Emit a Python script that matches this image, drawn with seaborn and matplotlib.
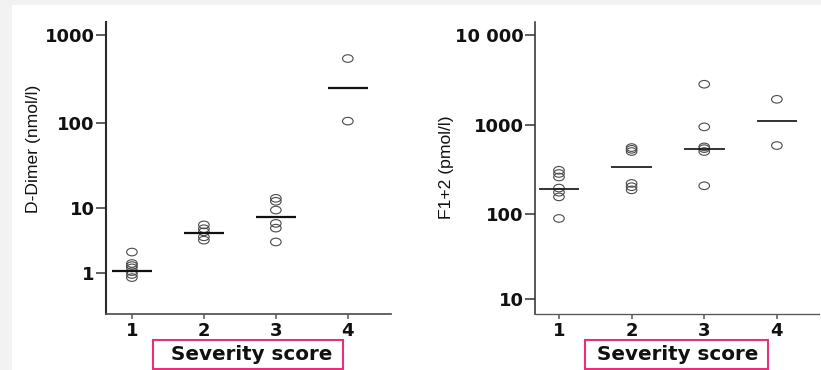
import numpy as np
import pandas as pd
import seaborn as sns
import matplotlib.pyplot as plt
from matplotlib.path import Path
from matplotlib.transforms import Affine2D
from matplotlib.patches import Rectangle
from matplotlib.ticker import NullLocator

# Severity score groups
severity = [1, 2, 3, 4]

# D-Dimer (nmol/l) per severity score
ddimer_1 = [2.1, 1.4, 1.3, 1.2, 1.05, 0.95, 0.85]
ddimer_2 = [5.5, 4.8, 4.3, 3.6, 3.2]
ddimer_3 = [13, 12, 9.3, 5.8, 4.9, 3.0]
ddimer_4 = [540, 105]
ddimer_median = [1.08, 4.1, 7.2, 248]
ddimer_ticks = [1, 10, 100, 1000]
ddimer_tick_labels = ['1', '10', '100', '1000']

# F1+2 (pmol/l) per severity score
f12_1 = [310, 285, 260, 195, 175, 155, 88]
f12_2 = [560, 535, 505, 220, 202, 186]
f12_3 = [2850, 960, 570, 545, 505, 207]
f12_4 = [1940, 590]
f12_median = [189, 341, 541, 1107]
f12_ticks = [10, 100, 1000, 10000]
f12_tick_labels = ['10', '100', '1000', '10 000']

PINK = '#e8307a'
W, H = 821, 370


def long_table(groups):
    rows = []
    for score, vals in zip(severity, groups):
        for v in vals:
            rows.append({'severity': score, 'value': v})
    return pd.DataFrame(rows)


def decade_scale(ax, ticks, heights):
    # the printed axis is not quite uniform per decade, so map each decade
    # to its own height (pixels above the x axis)
    k_log = list(np.log10(ticks))
    k_pos = list(heights)
    lo_step = k_pos[1] - k_pos[0]
    hi_step = k_pos[-1] - k_pos[-2]
    k_log = [k_log[0] - 2] + k_log + [k_log[-1] + 2]
    k_pos = [k_pos[0] - 2 * lo_step] + k_pos + [k_pos[-1] + 2 * hi_step]

    def fwd(v):
        v = np.clip(np.asarray(v, dtype=float), 1e-9, None)
        return np.interp(np.log10(v), k_log, k_pos)

    def inv(p):
        return 10 ** np.interp(p, k_pos, k_log)

    ax.set_yscale('function', functions=(fwd, inv))
    ax.set_ylim(inv(0), inv(292))


sns.set_style('ticks')
plt.rcParams['font.family'] = ['DejaVu Sans']

fig = plt.figure(figsize=(W / 100, H / 100), dpi=100, facecolor='#f2f2f2')
fig.add_artist(Rectangle((12 / W, 0), 1, 365 / H, transform=fig.transFigure,
                         fc='white', ec='none', zorder=-10))

ax1 = fig.add_axes([106 / W, 56 / H, 285 / W, 292 / H])
ax2 = fig.add_axes([535 / W, 56 / H, 284 / W, 292 / H])

# slightly wide open circles, like the printed figure
ellipse = Path.unit_circle().transformed(Affine2D().scale(1.4, 1.0))

panels = [
    (ax1, [ddimer_1, ddimer_2, ddimer_3, ddimer_4], ddimer_median,
     ddimer_ticks, ddimer_tick_labels, [41, 106, 191, 279],
     'D-Dimer (nmol/l)', (0.64, 4.6), 1.6, 1.5, (-0.256, 0.565)),
    (ax2, [f12_1, f12_2, f12_3, f12_4], f12_median,
     f12_ticks, f12_tick_labels, [15, 100.3, 188.7, 279],
     'F1+2 (pmol/l)', (0.67, 4.58), 1.2, 1.1, (-0.31, 0.503)),
]

for ax, groups, medians, ticks, tick_labels, heights, ylabel, xlim, mlw, slw, lab_xy in panels:
    df = long_table(groups)
    decade_scale(ax, ticks, heights)
    sns.scatterplot(data=df, x='severity', y='value', ax=ax, marker=ellipse,
                    s=58, facecolor='none', edgecolor='#4a4a4a',
                    linewidth=0.8, legend=False, zorder=3)
    xs = np.array(severity)
    ax.hlines(medians, xs - 0.28, xs + 0.28, color='#111111', lw=mlw, zorder=4)

    ax.set_xlim(*xlim)
    ax.set_xticks(severity)
    ax.set_xticklabels([str(s) for s in severity])
    ax.set_yticks(ticks)
    ax.set_yticklabels(tick_labels)
    ax.yaxis.set_minor_locator(NullLocator())
    ax.tick_params(axis='y', length=7.2, width=1.1, pad=1, labelsize=13,
                   color='#333333')
    ax.tick_params(axis='x', length=3.8, width=1.1, pad=2, labelsize=13,
                   color='#555555')
    for lbl in ax.get_xticklabels() + ax.get_yticklabels():
        lbl.set_fontweight('bold')
        lbl.set_color('#111111')

    sns.despine(ax=ax)
    ax.spines['left'].set_color('#2a2a2a')
    ax.spines['left'].set_linewidth(slw)
    ax.spines['bottom'].set_color('#555555')
    ax.spines['bottom'].set_linewidth(slw * 0.85)

    ax.set_xlabel('')
    ax.set_ylabel(ylabel, fontfamily=['Liberation Sans', 'DejaVu Sans'],
                  fontsize=12.6, color='#111111')
    ax.yaxis.set_label_coords(*lab_xy)
    ax.yaxis.label.set_va('center')

# "Severity score" captions in pink boxes
for x0, w, xc in [(153, 190, 252), (585, 183, 678)]:
    fig.add_artist(Rectangle((x0 / W, 1 / H), w / W, 29 / H,
                             transform=fig.transFigure, fill=False,
                             ec=PINK, lw=1.5))
    fig.text(xc / W, 10 / H, 'Severity score', ha='center', va='baseline',
             fontsize=14.3, fontweight='bold', color='#111111')

fig.savefig('out.png', dpi=100, facecolor=fig.get_facecolor())
